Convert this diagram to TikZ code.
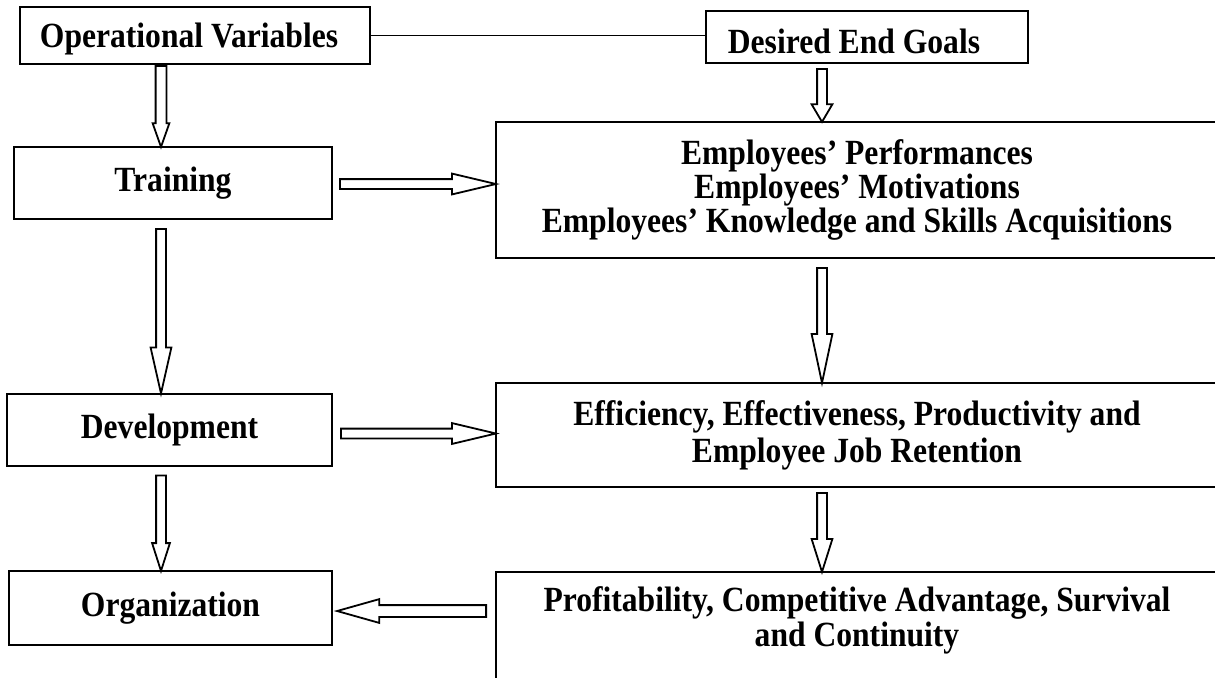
\documentclass[tikz,border=0pt]{standalone}
\usepackage{fontspec}
\usepackage{graphicx}
\setmainfont{Liberation Serif}
\usetikzlibrary{shapes.arrows, calc}

% slightly taller letters
\newcommand{\tall}[1]{\scalebox{1}[1.12]{#1}}

\tikzset{
  varbox/.style={draw, line width=1pt, inner sep=0pt, font=\fontsize{15.8}{16}\selectfont\bfseries},
  goalbox/.style={varbox, minimum width=361pt, align=center},
  hollow/.style={single arrow, draw, fill=white, line width=0.9pt, inner xsep=0pt,
    minimum width=0pt, single arrow head indent=0pt, anchor=tail}
}

% hollow block arrow laid from one point to another
\newcommand{\blockarrow}[3][]{%
  \path let \p1=(#2), \p2=(#3),
            \n1={veclen(\x2-\x1,\y2-\y1)}, \n2={atan2(\y2-\y1,\x2-\x1)} in
    node[hollow, #1, minimum height=\n1, rotate=\n2] at (\p1) {};}

\begin{document}
\begin{tikzpicture}[x=0.5pt, y=-0.5pt]
  \useasboundingbox (0,0) rectangle (1215,677);
  \clip (0,0) rectangle (1215,677);
  \fill[white] (0,0) rectangle (1215,677);

  % columns of the vertical arrows
  \coordinate (lcol) at (161,0);
  \coordinate (rcol) at (822,0);

  % left column: operational variables
  \node[varbox, minimum width=175pt, minimum height=28.5pt, text depth=0pt] (ov) at (195,35.5)
    {\tall{Operational Variables}\rule{6pt}{0pt}};
  \node[varbox, minimum width=159pt, minimum height=36pt] (train) at (173,183) {\tall{Training}};
  \node[varbox, minimum width=162.5pt, minimum height=36pt] (dev) at (169.5,429.5) {\tall{Development}};
  \node[varbox, minimum width=161.5pt, minimum height=37pt] (org) at (170.5,608) {\tall{Organization}};

  % right column: desired end goals
  \node[varbox, minimum width=161pt, minimum height=26pt, text height=16.8pt, text depth=0pt] (deg) at (867,37)
    {\tall{Desired End Goals}\rule{13pt}{0pt}};
  \node[goalbox, minimum height=68pt] (emp) at (857,190)
    {\tall{Employees' Performances}\\ \tall{Employees' Motivations}\\
     \tall{Employees' Knowledge and Skills Acquisitions}};
  \node[goalbox, minimum height=52pt, font=\fontsize{15.8}{18.5}\selectfont\bfseries] (eff) at (857,435)
    {\tall{Efficiency, Effectiveness, Productivity and}\\ \tall{Employee Job Retention}};
  \node[goalbox, minimum height=70pt, anchor=north] (prof) at (857,571) {};
  \node[font=\fontsize{15.8}{17.5}\selectfont\bfseries, align=center] (proftext) at (857,620)
    {\tall{Profitability, Competitive Advantage, Survival}\\ \tall{and Continuity}};

  % plain link between the two headings
  \draw[line width=0.75pt] (ov.east) -- (ov.east -| deg.west);

  % hollow arrows
  \blockarrow[inner ysep=2.25pt, single arrow head extend=1.5pt, single arrow tip angle=39]
    {ov.south -| lcol}{train.north -| lcol}
  \blockarrow[inner ysep=2pt, single arrow head extend=2.75pt, single arrow tip angle=25.5]
    {$(train.south -| lcol)+(0,8)$}{dev.north -| lcol}
  \blockarrow[inner ysep=2pt, single arrow head extend=2pt, single arrow tip angle=35.5]
    {$(dev.south -| lcol)+(0,8)$}{org.north -| lcol}
  \blockarrow[inner ysep=2pt, single arrow head extend=2.75pt, single arrow tip angle=26.7]
    {$(train.east)+(6,1)$}{$(train.east -| emp.west)+(0,1)$}
  \blockarrow[inner ysep=2pt, single arrow head extend=2.75pt, single arrow tip angle=26.7]
    {$(dev.east)+(7,4)$}{$(dev.east -| eff.west)+(0,4)$}
  \blockarrow[inner ysep=2pt, single arrow head extend=2.75pt, single arrow tip angle=61]
    {$(deg.south -| rcol)+(0,4)$}{emp.north -| rcol}
  \blockarrow[inner ysep=2pt, single arrow head extend=2.75pt, single arrow tip angle=24]
    {$(emp.south -| rcol)+(0,8)$}{eff.north -| rcol}
  \blockarrow[inner ysep=2pt, single arrow head extend=2.75pt, single arrow tip angle=35]
    {$(eff.south -| rcol)+(0,4)$}{prof.north -| rcol}
  \blockarrow[inner ysep=2.5pt, single arrow head extend=3pt, single arrow tip angle=31.5]
    {$(org.east -| prof.west)+(-8,3)$}{$(org.east)+(5,3)$}
\end{tikzpicture}
\end{document}
